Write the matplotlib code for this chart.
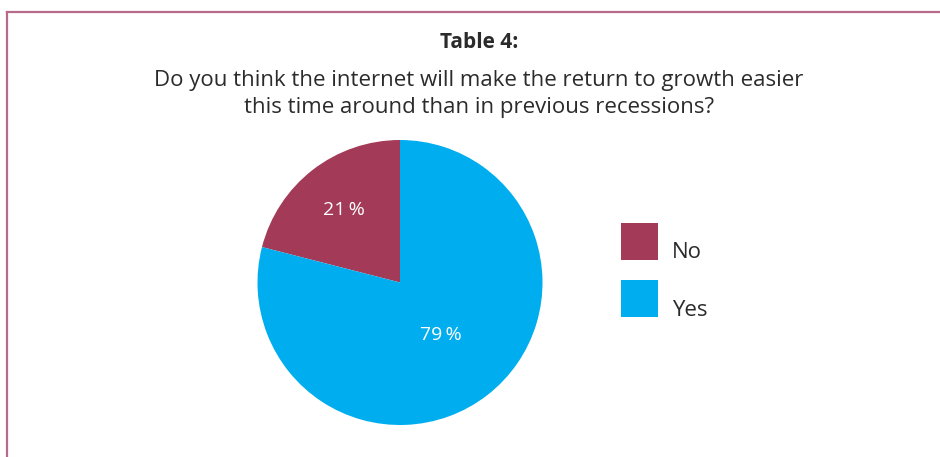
import matplotlib.pyplot as plt
from matplotlib.patches import Rectangle
from matplotlib.lines import Line2D
import numpy as np

plt.rcParams['font.family'] = ['Open Sans', 'DejaVu Sans']

labels = ['No', 'Yes']
shares = [21, 79]
colors = ['#a33a58', '#00aeef']
title = 'Table 4:'
question = ('Do you think the internet will make the return to growth easier\n'
            'this time around than in previous recessions?')

W, H = 940, 457
fig = plt.figure(figsize=(W / 100, H / 100), dpi=100)
fig.patch.set_facecolor('white')

# frame: only top and left edges fall inside the canvas
frame = '#b86a8a'
fig.add_artist(Line2D([6.5 / W, 1], [1 - 11.5 / H, 1 - 11.5 / H], color=frame, lw=1.6))
fig.add_artist(Line2D([6.5 / W, 6.5 / W], [0, 1 - 11.5 / H], color=frame, lw=1.6))

fig.text(479 / W, 1 - 43 / H, title, ha='center', va='center',
         fontsize=15, fontweight='bold', color='#2b2b2b')
fig.text(479 / W, 1 - 94 / H, question, ha='center', va='center',
         fontsize=16, color='#2b2b2b', linespacing=1.38)

# pie centred at (400, 282) px with radius 142 px
cx, cy, r = 400, 282.5, 142.5
ax = fig.add_axes([(cx - r) / W, (H - cy - r) / H, 2 * r / W, 2 * r / H])
wedges, _ = ax.pie(shares, colors=colors, startangle=90, counterclock=True,
                   radius=1.0, wedgeprops=dict(linewidth=0))
ax.set_xlim(-1, 1)
ax.set_ylim(-1, 1)
ax.set_aspect('equal')

label_dist = [0.64, 0.47]
for w, val, d in zip(wedges, shares, label_dist):
    mid = np.deg2rad((w.theta1 + w.theta2) / 2)
    ax.text(d * np.cos(mid), d * np.sin(mid), f'{val}\u2009%', ha='center', va='center',
            color='white', fontsize=14)

# legend squares with labels
sq = 37
for i, (lab, col) in enumerate(zip(labels, colors)):
    top = 223 + i * 57
    fig.add_artist(Rectangle((621 / W, 1 - (top + sq) / H), sq / W, sq / H,
                             transform=fig.transFigure, color=col, lw=0))
    fig.text(672 / W, 1 - (top + 30) / H, lab, ha='left', va='center',
             fontsize=16, color='#2b2b2b')

fig.savefig('out.png', dpi=100)
